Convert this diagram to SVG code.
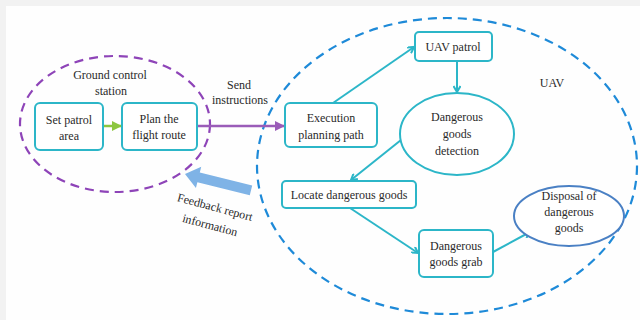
<svg xmlns="http://www.w3.org/2000/svg" width="640" height="320" viewBox="0 0 640 320">
<defs>
<style>
text{font-family:'Liberation Serif','Times New Roman',Times,serif;font-size:12px;fill:#2a2a2a;text-anchor:middle}
.box{fill:#fff;stroke:#2cb6c8;stroke-width:2}
.con{stroke:#2cb6c8;stroke-width:2;fill:none}
</style>
<marker id="ah" markerWidth="8" markerHeight="8" refX="7" refY="4" orient="auto" markerUnits="userSpaceOnUse">
<path d="M1,0.5 L7,4 L1,7.5" fill="none" stroke="#2cb6c8" stroke-width="2"/>
</marker>
<marker id="ahp" markerWidth="10" markerHeight="10" refX="9" refY="5" orient="auto" markerUnits="userSpaceOnUse">
<path d="M0,0 L10,5 L0,10 Z" fill="#9a5cb8"/>
</marker>
<marker id="ahg" markerWidth="10" markerHeight="10" refX="9" refY="5" orient="auto" markerUnits="userSpaceOnUse">
<path d="M0,0 L10,5 L0,10 Z" fill="#8cc63f"/>
</marker>
</defs>
<rect width="640" height="320" fill="#f2f2f2"/>
<rect x="6" y="6" width="634" height="314" fill="#fefefe"/>

<g id="ground-station">
<ellipse cx="115" cy="124" rx="95" ry="68" fill="none" stroke="#8e44b8" stroke-width="2.2" stroke-dasharray="9,6"/>
<text x="110" y="79">Ground control</text>
<text x="111" y="95">station</text>
</g>
<g id="uav-region">
<ellipse cx="447" cy="166" rx="190" ry="148" fill="none" stroke="#1e8ad8" stroke-width="2.2" stroke-dasharray="9,6"/>
<text x="552" y="87">UAV</text>
</g>

<g id="connectors">
<line x1="103" y1="126" x2="121" y2="126" stroke="#8cc63f" stroke-width="2.5" marker-end="url(#ahg)"/>
<line x1="197" y1="126" x2="284" y2="126" stroke="#9a5cb8" stroke-width="2.5" marker-end="url(#ahp)"/>
<line class="con" x1="333" y1="103" x2="414" y2="47" marker-end="url(#ah)"/>
<line class="con" x1="457" y1="61" x2="457" y2="92" marker-end="url(#ah)"/>
<line class="con" x1="401" y1="140" x2="351" y2="180" marker-end="url(#ah)"/>
<line class="con" x1="350" y1="208" x2="418" y2="253" marker-end="url(#ah)"/>
<line class="con" x1="493" y1="252" x2="530" y2="232" marker-end="url(#ah)"/>
<polygon points="0,0 14,-11 14,-5 68,-5 68,5 14,5 14,11" fill="#7fb3e6" transform="translate(185,174) rotate(14)"/>
<text transform="translate(214,211) rotate(15)">Feedback report</text>
<text transform="translate(209,229) rotate(15)">information</text>
<text x="239" y="89">Send</text>
<text x="240" y="104">instructions</text>
</g>

<g id="set-patrol-area">
<rect class="box" x="35" y="103" width="68" height="47" rx="5"/>
<text x="69" y="124">Set patrol</text>
<text x="69" y="140">area</text>
</g>
<g id="plan-flight-route">
<rect class="box" x="122" y="103" width="75" height="47" rx="5"/>
<text x="159" y="123">Plan the</text>
<text x="159" y="139">flight route</text>
</g>
<g id="execution-planning-path">
<rect class="box" x="285" y="103" width="92" height="44" rx="5"/>
<text x="331" y="122">Execution</text>
<text x="331" y="139">planning path</text>
</g>
<g id="uav-patrol">
<rect class="box" x="415" y="32" width="77" height="29" rx="4"/>
<text x="453" y="51">UAV patrol</text>
</g>
<g id="dangerous-goods-detection">
<ellipse class="box" cx="457" cy="134" rx="57" ry="41"/>
<text x="457" y="121">Dangerous</text>
<text x="457" y="138">goods</text>
<text x="457" y="155">detection</text>
</g>
<g id="locate-dangerous-goods">
<rect class="box" x="282" y="181" width="134" height="27" rx="4"/>
<text x="349" y="199">Locate dangerous goods</text>
</g>
<g id="dangerous-goods-grab">
<rect class="box" x="419" y="230" width="74" height="47" rx="5"/>
<text x="456" y="250">Dangerous</text>
<text x="456" y="266">goods grab</text>
</g>
<g id="disposal">
<ellipse cx="569" cy="216" rx="55" ry="30" fill="#fff" stroke="#4a80c4" stroke-width="2"/>
<text x="569" y="200">Disposal of</text>
<text x="569" y="216">dangerous</text>
<text x="569" y="232">goods</text>
</g>
</svg>
